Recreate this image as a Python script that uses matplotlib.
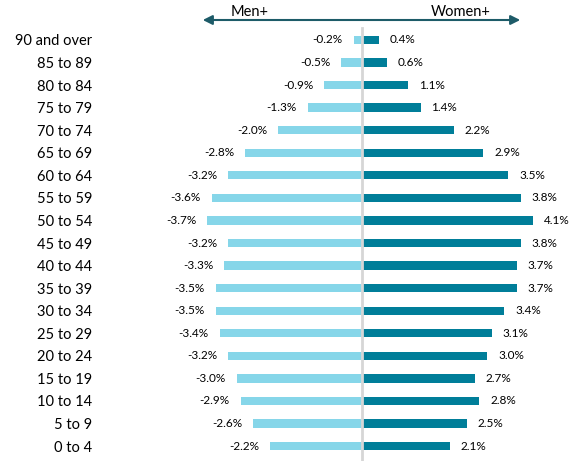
import matplotlib
matplotlib.use("Agg")
import matplotlib.pyplot as plt
from matplotlib.patches import FancyArrowPatch
import numpy as np

plt.rcParams['font.family'] = ['Lato', 'DejaVu Sans']

categories = ["90 and over", "85 to 89", "80 to 84", "75 to 79", "70 to 74", "65 to 69",
              "60 to 64", "55 to 59", "50 to 54", "45 to 49", "40 to 44", "35 to 39",
              "30 to 34", "25 to 29", "20 to 24", "15 to 19", "10 to 14", "5 to 9", "0 to 4"]
men = [-0.2, -0.5, -0.9, -1.3, -2.0, -2.8, -3.2, -3.6, -3.7, -3.2, -3.3, -3.5,
       -3.5, -3.4, -3.2, -3.0, -2.9, -2.6, -2.2]
women = [0.4, 0.6, 1.1, 1.4, 2.2, 2.9, 3.5, 3.8, 4.1, 3.8, 3.7, 3.7,
         3.4, 3.1, 3.0, 2.7, 2.8, 2.5, 2.1]

W, H = 578, 461
fig = plt.figure(figsize=(W / 100, H / 100), dpi=100)

center = 362.0
scale = 41.8  # px per percent
L, R = 105.0, 570.0
T, B = 28.7, 457.3
ax = fig.add_axes([L / W, 1 - B / H, (R - L) / W, (B - T) / H])
ax.set_xlim(-(center - L) / scale, (R - center) / scale)
n = len(categories)
y = np.arange(n)
ax.set_ylim(n - 0.5, -0.5)

men_c = "#86D6E9"
women_c = "#007E99"
ax.barh(y, men, height=0.37, color=men_c, zorder=2)
ax.barh(y, women, height=0.37, color=women_c, zorder=2)

ax.set_yticks(y)
ax.set_yticklabels(categories, fontsize=10.5, color="#000000")
ax.tick_params(axis='y', length=0, pad=9)
ax.set_xticks([])
for s in ax.spines.values():
    s.set_visible(False)

# center line
fig.add_artist(plt.Line2D([center / W, center / W], [0, 1 - 28 / H], color="#D6D6D6", lw=2, zorder=1))

off = 11 / scale
for yi, m, w in zip(y, men, women):
    ax.text(m - off, yi, f"{m:.1f}%", ha="right", va="center", fontsize=8.5, color="#000000")
    ax.text(w + off, yi, f"{w:.1f}%", ha="left", va="center", fontsize=8.5, color="#000000")

# header arrow
arr = FancyArrowPatch((200 / W, 1 - 20 / H), (523 / W, 1 - 20 / H), transform=fig.transFigure,
                      arrowstyle="<|-|>", mutation_scale=14, color="#1D5B68", lw=1.5)
fig.add_artist(arr)
fig.text(250 / W, 1 - 12 / H, "Men+", ha="center", va="center", fontsize=10.5)
fig.text(461 / W, 1 - 12 / H, "Women+", ha="center", va="center", fontsize=10.5)

fig.savefig("out.png", dpi=100)
